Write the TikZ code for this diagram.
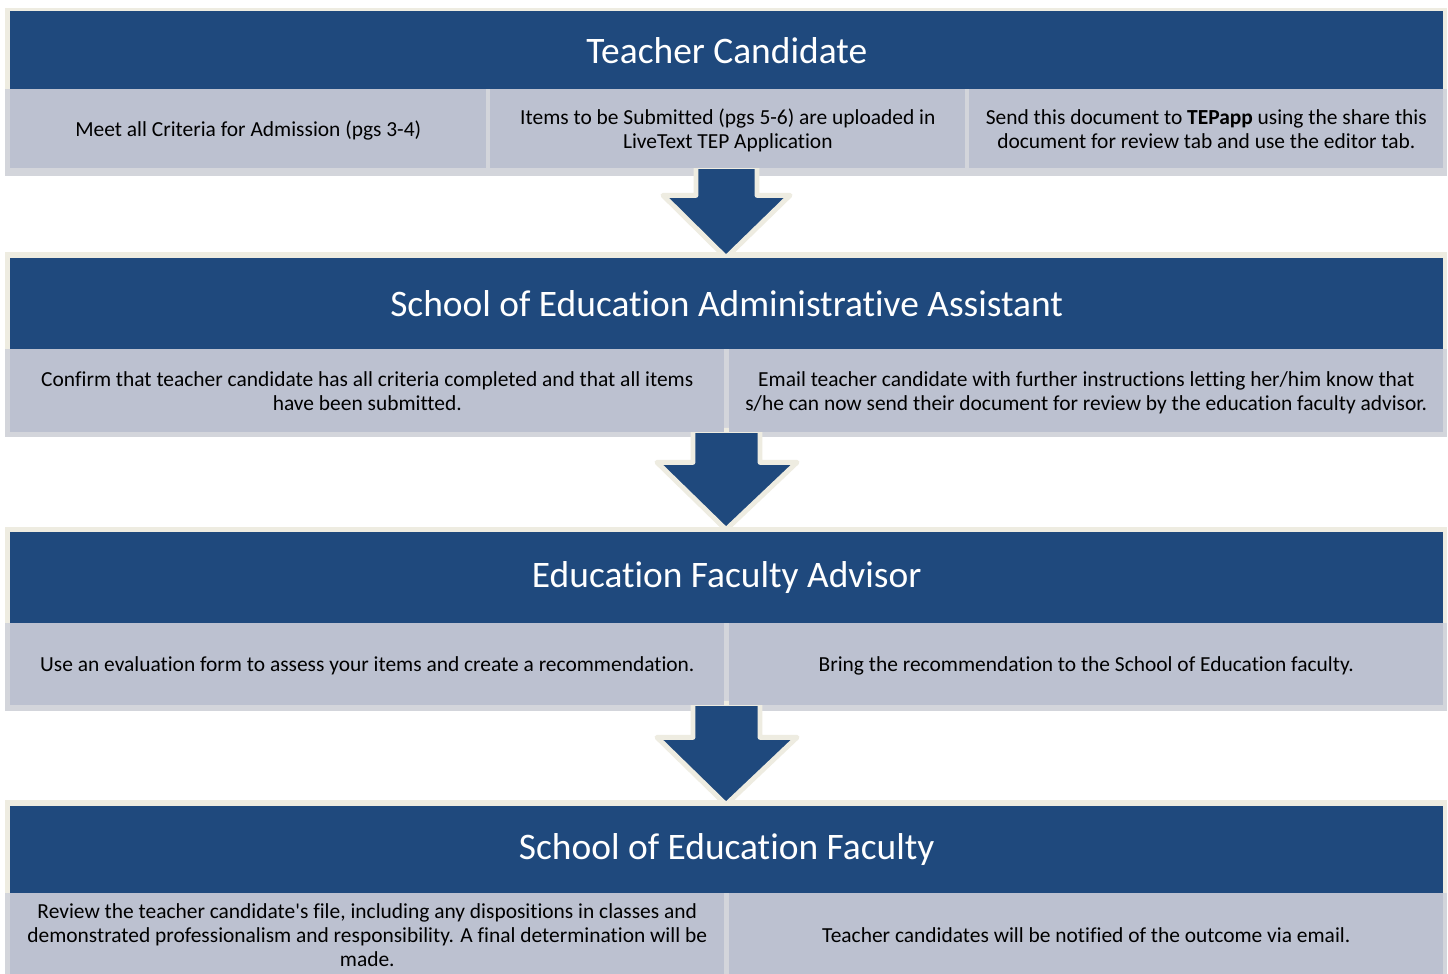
\documentclass[tikz,border=0pt]{standalone}
\usepackage{fontspec}
\setmainfont{Carlito}[Ligatures=NoCommon]
\usetikzlibrary{fit, calc}
\definecolor{navy}{HTML}{1F497D}
\definecolor{cream}{HTML}{EEECE1}
\definecolor{cellgrey}{HTML}{BCC1D0}
\definecolor{edgegrey}{HTML}{D3D5DB}
\tikzstyle{frame} = [rectangle, inner sep=0pt, fill=cream]
\tikzstyle{rowback} = [rectangle, inner sep=0pt, fill=edgegrey]
\tikzstyle{header} = [rectangle, anchor=north west, inner sep=0pt, minimum width=28.66cm, fill=navy, text=white, font=\fontsize{21.3}{25}\selectfont]
\tikzstyle{cell} = [rectangle, anchor=north west, inner sep=0pt, text depth=-8pt, fill=cellgrey, align=center, font=\fontsize{12.2}{13.6}\selectfont]
\tikzstyle{bigarrow} = [fill=navy, draw=cream, line width=2.8pt, line join=round]

\begin{document}
\begin{tikzpicture}[x=0.02cm, y=-0.02cm]
\useasboundingbox [fill=white] (0,0) rectangle (1448,974);

%%% frames %%%%%%%%%%%%%%%%%%%%%%%
\node (sec1) [frame, fit={(5,8) (1447,176)}] {};
\node (row1) [rowback, fit={(5,89) (1447,176)}] {};
\node (sec2) [frame, fit={(5,252) (1447,437)}] {};
\node (row2) [rowback, fit={(5,349) (1447,437)}] {};
\node (sec3) [frame, fit={(5,527) (1447,711)}] {};
\node (row3) [rowback, fit={(5,623) (1447,711)}] {};
\node (sec4) [frame, fit={(5,800) (1447,985)}] {};
\node (row4) [rowback, fit={(5,893) (1447,985)}] {};

%%% arrows %%%%%%%%%%%%%%%%%%%%%%%
\draw [bigarrow] ($(sec1.south)+(-30,-10)$) -- ($(sec1.south)+(-30,19)$) -- ($(sec1.south)+(-63,19)$)
  -- ($(sec2.north)+(0,6)$) -- ($(sec1.south)+(64,19)$) -- ($(sec1.south)+(31,19)$) -- ($(sec1.south)+(31,-10)$) -- cycle;
\draw [bigarrow] ($(sec2.south)+(-33,-7)$) -- ($(sec2.south)+(-33,25)$) -- ($(sec2.south)+(-69,25)$)
  -- ($(sec3.north)+(0,3)$) -- ($(sec2.south)+(71,25)$) -- ($(sec2.south)+(34,25)$) -- ($(sec2.south)+(34,-7)$) -- cycle;
\draw [bigarrow] ($(sec3.south)+(-33,-8)$) -- ($(sec3.south)+(-33,26)$) -- ($(sec3.south)+(-69,26)$)
  -- ($(sec4.north)+(0,5)$) -- ($(sec3.south)+(71,26)$) -- ($(sec3.south)+(34,26)$) -- ($(sec3.south)+(34,-8)$) -- cycle;

%%% teacher candidate %%%%%%%%%%%%%%%%%%%%%%%
\node (tc) [header, minimum height=1.56cm] at (10,11) {Teacher Candidate};
\node (tc1) [cell, minimum width=9.52cm, minimum height=1.58cm] at (10,89) {Meet all Criteria for Admission (pgs 3-4)};
\node (tc2) [cell, minimum width=9.5cm, minimum height=1.58cm] at (490,89) {Items to be Submitted (pgs 5-6) are uploaded in\\LiveText TEP Application};
\node (tc3) [cell, minimum width=9.48cm, minimum height=1.58cm] at (969,89) {Send this document to \textbf{TEPapp} using the share this\\document for review tab and use the editor tab.};

%%% administrative assistant %%%%%%%%%%%%%%%%%%%%%%%
\node (aa) [header, minimum height=1.82cm] at (10,258) {School of Education Administrative Assistant};
\node (aa1) [cell, minimum width=14.28cm, minimum height=1.66cm] at (10,349) {Confirm that teacher candidate has all criteria completed and that all items\\have been submitted.};
\node (aa2) [cell, minimum width=14.28cm, minimum height=1.66cm] at (729,349) {Email teacher candidate with further instructions letting her/him know that\\s/he can now send their document for review by the education faculty advisor.};

%%% faculty advisor %%%%%%%%%%%%%%%%%%%%%%%
\node (fa) [header, minimum height=1.82cm] at (10,532) {Education Faculty Advisor};
\node (fa1) [cell, minimum width=14.28cm, minimum height=1.64cm] at (10,623) {Use an evaluation form to assess your items and create a recommendation.};
\node (fa2) [cell, minimum width=14.28cm, minimum height=1.64cm] at (729,623) {Bring the recommendation to the School of Education faculty.};

%%% faculty %%%%%%%%%%%%%%%%%%%%%%%
\node (sf) [header, minimum height=1.74cm] at (10,806) {School of Education Faculty};
\node (sf1) [cell, text depth=-2pt, minimum width=14.28cm, minimum height=1.66cm] at (10,893) {Review the teacher candidate\textquotesingle s file, including any dispositions in classes and\\demonstrated professionalism and responsibility. A final determination will be\\made.};
\node (sf2) [cell, text depth=-2pt, minimum width=14.28cm, minimum height=1.66cm] at (729,893) {Teacher candidates will be notified of the outcome via email.};
\end{tikzpicture}
\end{document}
